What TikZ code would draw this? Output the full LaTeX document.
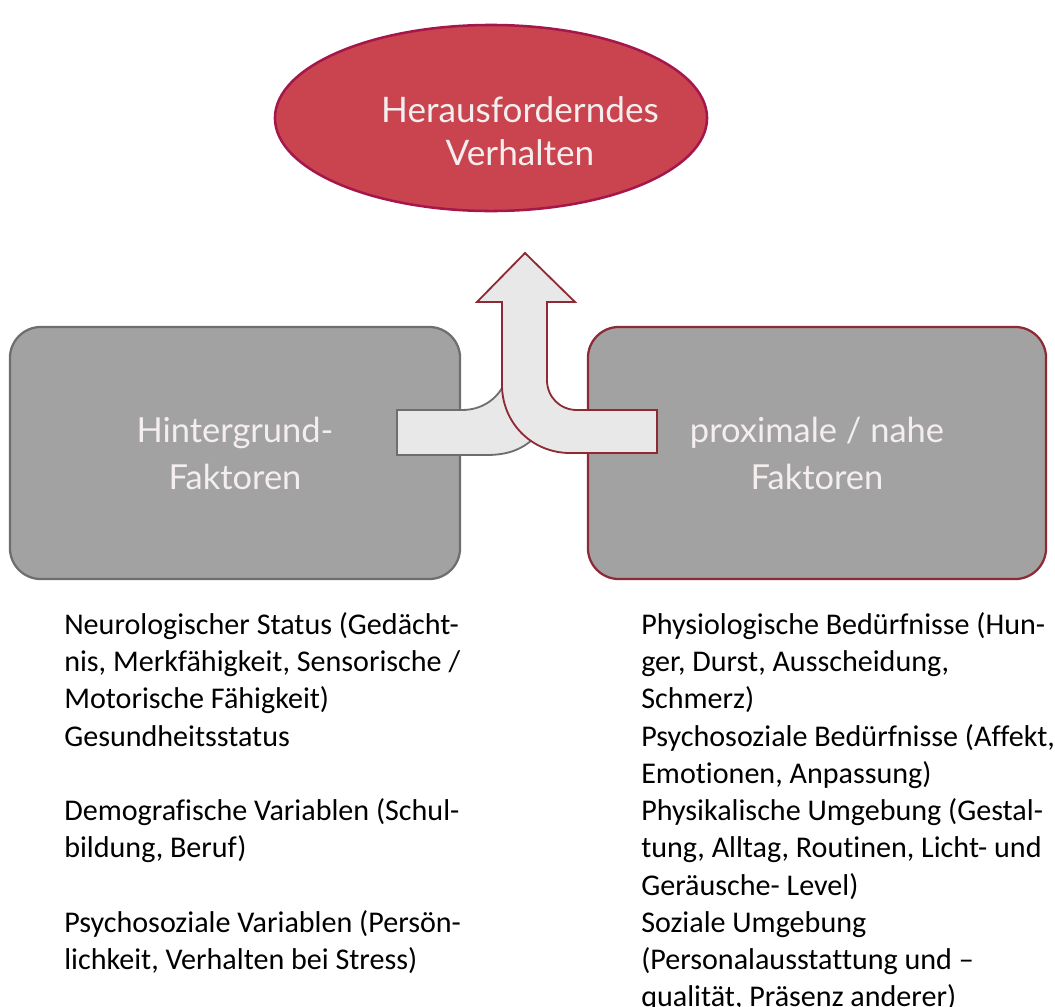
\documentclass[tikz,border=0pt]{standalone}
\usepackage{fontspec}
\setmainfont{Carlito}[Ligatures=NoCommon]
\newfontfamily\boxfont{Lato}
\usepackage{xcolor}
\usetikzlibrary{shapes.geometric}

\definecolor{boxgray}{HTML}{A2A2A2}
\definecolor{goalred}{HTML}{C9444E}
\definecolor{goalrim}{HTML}{A5174A}
\definecolor{rimred}{HTML}{8E2A36}
\definecolor{rimgray}{HTML}{6E6E6E}
\definecolor{tubefill}{HTML}{E8E8E8}
\definecolor{softwhite}{HTML}{F4EEEE}

\begin{document}
\begin{tikzpicture}[x=0.025cm,y=-0.025cm,
  goal/.style={draw=goalrim,ellipse,fill=goalred,line width=1.8pt,
               minimum width=10.8cm,minimum height=4.65cm,inner sep=0pt},
  factor/.style={rectangle,rounded corners=22pt,fill=boxgray,line width=1.6pt,
                 minimum width=11.25cm,minimum height=6.3cm,inner sep=0pt,
                 align=center,text=softwhite,
                 font=\boxfont\fontsize{24.5}{33.5}\selectfont},
  head/.style={align=center,text=softwhite,
               font=\boxfont\fontsize{25}{30.5}\selectfont},
  tube/.style={fill=tubefill,line width=1.3pt,line join=miter},
  list/.style={anchor=north west,align=left,inner sep=0pt,
               font=\fontsize{21.4}{26.5}\selectfont}
]
\clip (0,0) rectangle (1055,1007);

%% Target behaviour
\node[goal] (goal) at (491,118) {};
\node[head] (goaltxt) at (520,131) {Herausforderndes\\Verhalten};

%% Factor boxes
\node[factor,draw=rimgray] (bg)  at (235,453) {Hintergrund-\\Faktoren};
\node[factor,draw=rimred,minimum width=11.45cm] (prox) at (817,453)
      {proximale / nahe\\Faktoren};

%% Merging arrow: left branch first, right branch with head on top
\draw[tube,draw=rimgray] (397,410) -- (462,410)
      .. controls (486,410) and (504,394) .. (508,372)
      -- (540,380) -- (532,440)
      .. controls (518,452) and (503,455) .. (486,455)
      -- (397,455) -- cycle;
\draw[tube,draw=rimred] (525,253) -- (575,302) -- (547,302) -- (547,380)
      .. controls (547,397) and (560,410) .. (577,410)
      -- (657,410) -- (657,453) -- (570,453)
      .. controls (532,453) and (502,423) .. (502,385)
      -- (502,302) -- (477,302) -- cycle;

%% Lists below the boxes
\node[list] (bglist) at (64,612)
  {Neurologischer Status (Gedächt-\\
   nis, Merkfähigkeit, Sensorische /\\
   Motorische Fähigkeit)\\
   Gesundheitsstatus\\[26.5pt]
   Demografische Variablen (Schul-\\
   bildung, Beruf)\\[26.5pt]
   Psychosoziale Variablen (Persön-\\
   lichkeit, Verhalten bei Stress)};
\node[list] (proxlist) at (641,612)
  {Physiologische Bedürfnisse (Hun-\\
   ger, Durst, Ausscheidung,\\
   Schmerz)\\
   Psychosoziale Bedürfnisse (Affekt,\\
   Emotionen, Anpassung)\\
   Physikalische Umgebung (Gestal-\\
   tung, Alltag, Routinen, Licht- und\\
   Geräusche- Level)\\
   Soziale Umgebung\\
   (Personalausstattung und –\\
   qualität, Präsenz anderer)};
\end{tikzpicture}
\end{document}
